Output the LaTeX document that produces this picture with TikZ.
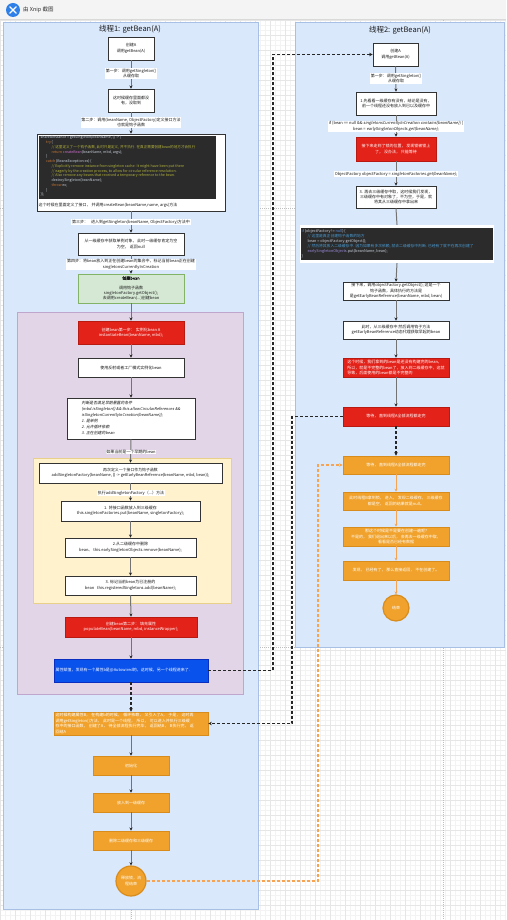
\documentclass[tikz,border=0pt]{standalone}
\usepackage{fontspec}
\setmainfont{Noto Sans CJK SC}[ItalicFont={Noto Sans CJK SC}, ItalicFeatures={FakeSlant=0.2}, BoldFont={Noto Sans CJK SC}, BoldFeatures={FakeBold=1.5}]
\XeTeXlinebreaklocale "zh"
\XeTeXlinebreakskip=0pt plus 0.5pt
\usetikzlibrary{arrows.meta,calc}
\newcommand{\myfs}{\fontsize{4}{5.4}\selectfont}
\newcommand{\mycode}{\fontsize{3.6}{4.75}\selectfont}
\newcommand{\mycodeb}{\fontsize{3.8}{5}\selectfont}
\definecolor{cblue}{HTML}{DAE8FC}
\definecolor{cblueB}{HTML}{A7C0E3}
\definecolor{cpurp}{HTML}{E1D5E7}
\definecolor{cpurpB}{HTML}{BFA6CD}
\definecolor{cyel}{HTML}{FFF2CC}
\definecolor{cyelB}{HTML}{E8CF8A}
\definecolor{cgreen}{HTML}{D5E8D4}
\definecolor{cgreenB}{HTML}{82B366}
\definecolor{cred}{HTML}{E3221A}
\definecolor{credB}{HTML}{B81A12}
\definecolor{cbbox}{HTML}{0A52EC}
\definecolor{cbboxB}{HTML}{0A2FC0}
\definecolor{corg}{HTML}{F0A22C}
\definecolor{corgB}{HTML}{D88C1B}
\definecolor{corgL}{HTML}{F6A352}
\definecolor{codebg}{HTML}{2B2B2B}
\definecolor{codefg}{HTML}{C8D0DA}
\definecolor{codekw}{HTML}{CC7832}
\definecolor{codecm}{HTML}{B4B43C}
\definecolor{codefn}{HTML}{D070D0}
\definecolor{codecmb}{HTML}{4A9AD0}
\definecolor{codekwb}{HTML}{5A8FE0}
\definecolor{codevar}{HTML}{A08CE0}
\definecolor{gridminor}{HTML}{F3F3F3}
\definecolor{gridmajor}{HTML}{E6E6E6}
\definecolor{barbg}{HTML}{F4F4F4}
\definecolor{xnip}{HTML}{2F7FE8}
\tikzset{
  base/.style={font=\myfs, align=center, inner sep=0.6pt, line width=0.6pt},
  wbox/.style={base, draw=black!80, fill=white, text=black!90},
  rbox/.style={base, draw=credB, fill=cred, text=white},
  obox/.style={base, draw=corgB, fill=corg, text=white},
  gbox/.style={base, draw=cgreenB, fill=cgreen, text=black!90},
  bbox/.style={base, draw=cbboxB, fill=cbbox, text=white},
  garrow/.style={draw=black!55, line width=1pt, -{Stealth[length=3.2pt,width=3pt,color=black!85]}},
  gline/.style={draw=black!55, line width=1pt},
  oarrow/.style={draw=corgL, line width=0.7pt, -{Stealth[length=3pt,width=3pt]}},
  kdash/.style={draw=black!85, line width=1.1pt, dash pattern=on 3pt off 2pt, -{Stealth[length=3.6pt,width=3.6pt]}},
  odash/.style={draw=corgL, line width=1.1pt, dash pattern=on 3pt off 2pt, -{Stealth[length=3.6pt,width=3.6pt]}},
  lbl/.style={font=\myfs, fill=white, inner sep=0.6pt, align=center, text=black!90},
  cont/.style={line width=0.8pt, inner sep=0},
  ttl/.style={font=\fontsize{7.5}{9}\selectfont, text=black!90},
}
\begin{document}
\begin{tikzpicture}[x=1pt,y=-1pt]
\useasboundingbox (0,0) rectangle (506,920);
\fill[white] (0,0) rectangle (506,920);
% canvas grid
\foreach \gx in {0,5,...,505} {\draw[gridminor, line width=0.3pt] (\gx,20) -- (\gx,920);}
\foreach \gy in {20,25,...,920} {\draw[gridminor, line width=0.3pt] (0,\gy) -- (506,\gy);}
\foreach \gx in {0,15,...,495} {\draw[gridmajor, line width=0.35pt] (\gx,20) -- (\gx,920);}
\foreach \gy in {20,35,...,905} {\draw[gridmajor, line width=0.35pt] (0,\gy) -- (506,\gy);}
\draw[black!25, dash pattern=on 1pt off 1pt, line width=0.4pt] (131,20) -- (131,920) (443,20) -- (443,920) (0,208) -- (506,208) (0,647) -- (506,647);
% top bar
\fill[barbg] (0,0) rectangle (506,19.5);
\draw[black!15, line width=0.4pt] (0,19.5) -- (506,19.5);
\node[circle, fill=xnip, minimum size=14, inner sep=0] (logo) at (13,10) {};
\draw[white, line width=1.4pt, line cap=round] (9.8,6.8) -- (16.2,13.2) (16.2,6.8) -- (9.8,13.2);
\node[anchor=west, font=\fontsize{5.5}{6.5}\selectfont, text=black!80, inner sep=0] (bartitle) at (23,10) {由 Xnip 截图};

% containers
\node[cont, draw=cblueB, fill=cblue, minimum width=255, minimum height=887] (L) at (130.5,465.5) {};
\node[cont, draw=cblueB, fill=cblue, minimum width=209, minimum height=625] (R) at (399.5,334.5) {};
\node[cont, draw=cpurpB, fill=cpurp, minimum width=226, minimum height=382] (P) at (130,503) {};
\node[cont, draw=cyelB, fill=cyel, minimum width=198, minimum height=145] (Y) at (132,530.5) {};
\node[ttl] (t1) at (130,29.5) {线程1: getBean(A)};
\node[ttl] (t2) at (400,30) {线程2: getBean(A)};

% ---------- left column ----------
\node[wbox, minimum width=46, minimum height=23] (b1) at (131,48.5) {创建A\\调用getBean(A)};
\node[wbox, minimum width=46, minimum height=23] (b2) at (131,100.5) {这时候缓存里面都没\\有，没取到};
\node[wbox, minimum width=188, minimum height=77] (b3) at (131,172.5) {};
\fill[codebg] (39,136) rectangle (216,199);
\node[font=\mycode, anchor=north west, align=left, inner sep=0, text=codefg] (code1) at (40.5,135.8) {%
sharedInstance = getSingleton(beanName, () -> \{\\
\hspace*{5.5pt}{\color{codekw}try} \{\\
\hspace*{11pt}{\color{codecm}// 这里定义了一个钩子函数, 此时只是定义, 并不执行. 在真正需要创建bean的地方才会执行}\\
\hspace*{11pt}{\color{codekw}return} {\color{codefn}createBean}(beanName, mbd, args);\\
\hspace*{5.5pt}\}\\
\hspace*{5.5pt}{\color{codekw}catch} (BeansException ex) \{\\
\hspace*{11pt}{\color{codecm}// Explicitly remove instance from singleton cache: It might have been put there}\\
\hspace*{11pt}{\color{codecm}// eagerly by the creation process, to allow for circular reference resolution.}\\
\hspace*{11pt}{\color{codecm}// Also remove any beans that received a temporary reference to the bean.}\\
\hspace*{11pt}destroySingleton(beanName);\\
\hspace*{11pt}{\color{codekw}throw} ex;\\
\hspace*{5.5pt}\}\\
\});};
\node[font=\myfs, anchor=west, inner sep=0, text=black!90] (b3txt) at (38.5,205.5) {这个时候在里面定义了接口， 并调用createBean(beanName,name, args)方法};
\node[wbox, minimum width=106, minimum height=22] (b4) at (131,244) {从一级缓存中获取单例对象， 此时一级缓存肯定为空\\为空， 返回null};
\node[gbox, minimum width=106, minimum height=29] (b5) at (131,288.5) {{\bfseries 创建bean}\\[4pt]调用钩子函数\\singletonFactory.getObject();\\去调用createBean(...)创建bean};
\node[rbox, minimum width=106, minimum height=23] (b6) at (131,332.5) {创建bean第一步： 实例化bean A\\instantiateBean(beanName, mbd);};
\node[wbox, minimum width=106, minimum height=19] (b7) at (131,367.5) {使用反射或者工厂模式实例化bean};
\node[wbox, minimum width=128, minimum height=41, align=left, font=\fontsize{3.9}{6}\selectfont\itshape] (b8) at (131,418.5) {判断是否满足早期暴露的条件\\(mbd.isSingleton() \&\& this.allowCircularReferences \&\&\\isSingletonCurrentlyInCreation(beanName));\\1. 是单例\\2. 允许循环依赖\\3. 正在创建的bean\hspace*{42pt}};
\node[wbox, minimum width=183, minimum height=20, font=\fontsize{3.9}{5.4}\selectfont] (b9) at (130.5,473) {再次定义一个接口作为钩子函数\\addSingletonFactory(beanName, () -> getEarlyBeanReference(beanName, mbd, bean));};
\node[wbox, minimum width=139, minimum height=20] (b10) at (130.5,511) {1. 将接口函数放入到三级缓存\\this.singletonFactories.put(beanName, singletonFactory);};
\node[wbox, minimum width=131, minimum height=19] (b11) at (130.5,547.5) {2.从二级缓存中删除\\bean、 this.earlySingletonObjects.remove(beanName);};
\node[wbox, minimum width=131, minimum height=19] (b12) at (130.5,585.5) {3. 标记当前bean为已注册的\\bean\hspace{3pt}this.registeredSingletons.add(beanName);};
\node[rbox, minimum width=132, minimum height=20] (b13) at (131,627) {创建bean第二步： 填充属性\\populateBean(beanName, mbd, instanceWrapper);};
\node[bbox, minimum width=154, minimum height=23, text width=151, align=left] (b14) at (131,670.5) {属性赋值，发现有一个属性b是@Autowired的，这时候，另一个线程进来了.};
\node[obox, minimum width=154, minimum height=23, text width=151, align=left] (b15) at (131,723.5) {这时候构建属性B， 在构建b的时候， 循环依赖， 又引入了A， 于是， 这时再\\调用getSingleton()方法， 此时是一个线程， 所以， 可以进入并执行三级缓\\存中的接口函数， 创建了A， 待全部流程执行完毕， 返回结B， B执行完， 返\\回结A};
\node[obox, minimum width=76, minimum height=19] (b16) at (131,765.5) {初始化};
\node[obox, minimum width=76, minimum height=19] (b17) at (131,802.5) {放入到一级缓存};
\node[obox, minimum width=76, minimum height=19] (b18) at (131,840.5) {删除二级缓存和三级缓存};
\node[obox, circle, line width=1.2pt, minimum size=30, inner sep=0] (c19) at (131,881) {释放锁，流\\程结束};

% ---------- right column ----------
\node[wbox, minimum width=45, minimum height=23] (r1) at (395.5,54.5) {创建A\\调用getBean(A)};
\node[wbox, minimum width=80, minimum height=23] (r2) at (396,103.5) {1.先看看一级缓存有没有，结论是没有，\\前一个线程还没有放入到已以及缓存中};
\node[rbox, minimum width=80, minimum height=24] (r3) at (396,149) {接下来走到了锁的位置， 发现锁被锁上\\了， 没办法， 只能等待};
\node[wbox, minimum width=80, minimum height=22] (r4) at (396,197) {3. 再去三级缓存中取，这时候我们发现，\\三级缓存中有对象了，不为空，于是，就\\将其从三级缓存中拿出来};
\node[fill=white, minimum width=194, minimum height=38, inner sep=0] (r5) at (397,244) {};
\fill[codebg] (301,228) rectangle (493,260);
\node[font=\mycodeb, anchor=north west, align=left, inner sep=0, text=codefg] (code2) at (301.5,229) {%
{\color{codekwb}if} (objectFactory != {\color{codekwb}null}) \{\\
\hspace*{6pt}{\color{codecmb}// 这里是真正创建钩子函数的地方}\\
\hspace*{6pt}bean = objectFactory.getObject();\\
\hspace*{6pt}{\color{codecmb}// 然后将其放入二级缓存中. 因为如果有多次依赖, 就去二级缓存中判断. 已经有了就不在再次创建了}\\
\hspace*{6pt}{\color{codevar}earlySingletonObjects}.put(beanName, bean);\\
\}};
\node[wbox, minimum width=106, minimum height=18] (r6) at (396,291) {接下来，调用objectFactory.getObject(); 这是一个\\钩子函数，具体执行的方法是\\是getEarlyBeanReference(beanName, mbd, bean)};
\node[wbox, minimum width=106, minimum height=18] (r7) at (396,330) {此时，从三级缓存中 然后调用钩子方法\\getEarlyBeanReference动态代理获取早起的bean};
\node[rbox, minimum width=106, minimum height=19, align=left] (r8) at (396,367.5) {这个时候，我们拿到的bean是还没有构建完的bean，\\所以，就是不完整的bean了，放入到二级缓存中，这就\\导致，后面使用的bean都是不完整的};
\node[rbox, minimum width=106, minimum height=19] (r9) at (396,416.5) {等待， 直到线程A全部流程都走完};
\node[obox, minimum width=106, minimum height=18] (r10) at (396,465) {等待， 直到线程A全部流程都走完};
\node[obox, minimum width=106, minimum height=18] (r11) at (396,501) {此时线程B拿到锁， 进入， 发现二级缓存， 三级缓存\\都是空， 返回的结果就是null。};
\node[obox, minimum width=106, minimum height=19] (r12) at (396,536.5) {那这个时候是不是要在创建一遍呢?\\不是的， 我们退出来以后， 会再去一级缓存中取，\\看看是否已经有数据};
\node[obox, minimum width=106, minimum height=19] (r13) at (396,570.5) {发现， 已经有了， 那么直接返回， 不在创建了。};
\node[obox, circle, line width=1.2pt, minimum size=26, inner sep=0] (r14) at (396,608) {结束};

% ---------- connectors ----------
\draw[garrow] (b1.south) -- (b2.north);
\draw[garrow] (b2.south) -- (b3.north);
\draw[garrow] (b3.south) -- (b4.north);
\draw[garrow] (b4.south) -- (b5.north);
\draw[garrow] (b5.south) -- (b6.north);
\draw[garrow] (b6.south) -- (b7.north);
\draw[garrow] (b7.south) -- (b8.north);
\draw[garrow] (b8.south) -- (b9.north);
\draw[garrow] (b9.south) -- (b10.north);
\draw[garrow] (b10.south) -- (b11.north);
\draw[garrow] (b11.south) -- (b12.north);
\draw[garrow] (b12.south) -- (b13.north);
\draw[garrow] (b13.south) -- (b14.north);
\draw[kdash] (b14.south) -- (b15.north);
\draw[garrow] (b15.south) -- (b16.north);
\draw[garrow] (b16.south) -- (b17.north);
\draw[garrow] (b17.south) -- (b18.north);
\draw[garrow] (b18.south) -- (c19.north);

\draw[garrow] (r1.south) -- (r2.north);
\draw[garrow] (r2.south) -- (r3.north);
\draw[garrow] (r3.south) -- (r4.north);
\draw[gline] (r4.south) -- (r5.north);
\draw[garrow] (r5.south) -- (r6.north);
\draw[garrow] (r6.south) -- (r7.north);
\draw[garrow] (r7.south) -- (r8.north);
\draw[garrow] (r8.south) -- (r9.north);
\draw[kdash] (r9.south) -- (r10.north);
\draw[oarrow] (r10.south) -- (r11.north);
\draw[oarrow] (r11.south) -- (r12.north);
\draw[oarrow] (r12.south) -- (r13.north);
\draw[oarrow] (r13.south) -- (r14.north);

\draw[kdash] (b14.east) -- (273,670.5) |- (r1.west);
\draw[kdash] (r9.west) -- (292,416.5) |- (b15.east);
\draw[odash] (c19.east) -- (318,881) |- (r10.west);

% ---------- edge labels ----------
\node[lbl] (l1) at (131,73.5) {第一步：调用getSingleton()\\从缓存取};
\node[lbl] (l2) at (131,122.5) {第二步：调用(beanName, ObjectFactory)定义接口方法\\也就是钩子函数};
\node[lbl] (l3) at (131,222) {第三步：\hspace{3pt}进入到getSingleton(beanName, ObjectFactory)方法中};
\node[lbl] (l4) at (131,264.5) {第四步：将bean放入到正在创建bean的集合中，标记当前bean正在创建\\singletonsCurrentlyInCreation};
\node[lbl] (l5) at (131,452) {如果当前是一个早期的bean};
\node[lbl] (l6) at (131,493) {执行addSingletonFactory（...）方法};
\node[lbl] (rl1) at (396,78.5) {第一步：调用getSingleton()\\从缓存取};
\node[lbl] (rl2) at (396,126.5) {if (bean == null \&\& {\itshape singletonsCurrentlyInCreation.contains(beanName)}) \{\\bean = {\itshape earlySingletonObjects.get(beanName);}};
\node[lbl] (rl3) at (396,174) {ObjectFactory objectFactory = {\itshape singletonFactories.get(beanName);}};
\end{tikzpicture}
\end{document}
